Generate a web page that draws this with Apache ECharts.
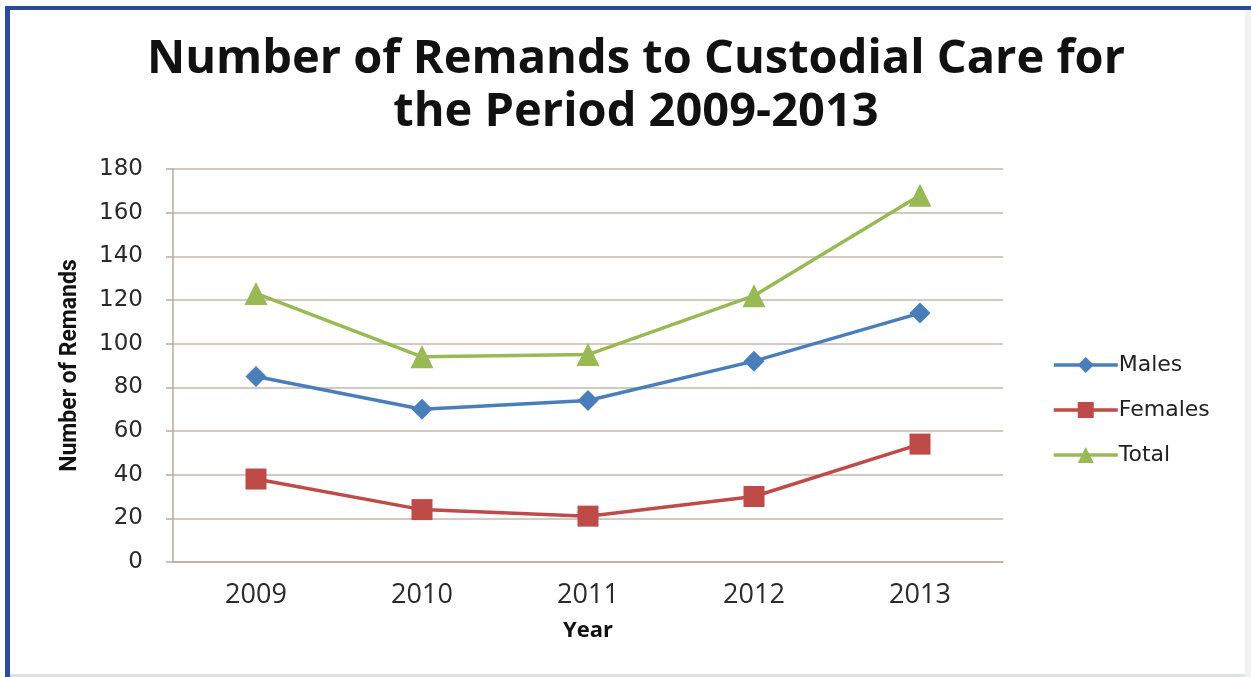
<!DOCTYPE html>
<html>
<head>
<meta charset="utf-8">
<title>Number of Remands to Custodial Care</title>
<script src="https://cdn.jsdelivr.net/npm/echarts@6/dist/echarts.min.js"></script>
<style>
  html, body { margin: 0; padding: 0; background: #ffffff; }
  #chart { width: 1251px; height: 677px; }
</style>
</head>
<body>
<div id="chart"></div>
<script>
// Remands to custodial care, by year
const years = ['2009', '2010', '2011', '2012', '2013'];
const males = [85, 70, 74, 92, 114];
const females = [38, 24, 21, 30, 54];
const total = [123, 94, 95, 122, 168];
const yTicks = { min: 0, max: 180, interval: 20 };

const chart = echarts.init(document.getElementById('chart'), null, { renderer: 'canvas' });

const lineSeries = (name, data, color, symbol, size) => ({
  name: name,
  type: 'line',
  data: data,
  symbol: symbol,
  symbolSize: size,
  showAllSymbol: true,
  lineStyle: { color: color, width: 3.5 },
  itemStyle: { color: color, borderWidth: 0 },
  emphasis: { disabled: true },
  z: 3
});

chart.setOption({
  animation: false,
  backgroundColor: '#ffffff',
  title: {
    text: 'Number of Remands to Custodial Care for\nthe Period 2009-2013',
    left: 631,
    textAlign: 'center',
    top: 28,
    textStyle: {
      fontFamily: 'Open Sans',
      fontWeight: 'bold',
      fontSize: 47,
      lineHeight: 53,
      color: '#111111'
    }
  },
  legend: {
    orient: 'vertical',
    left: 1047,
    top: 349,
    itemWidth: 64,
    itemHeight: 20,
    itemGap: 23,
    lineStyle: { width: 3.5 },
    textStyle: {
      fontFamily: 'DejaVu Sans',
      fontSize: 22,
      color: '#222222',
      padding: [0, 0, 0, -4]
    },
    data: ['Males', 'Females', 'Total']
  },
  grid: {
    left: 173,
    right: 248,
    top: 169,
    bottom: 115,
    containLabel: false
  },
  xAxis: {
    type: 'category',
    data: years,
    boundaryGap: true,
    name: 'Year',
    nameLocation: 'middle',
    nameGap: 58,
    nameTextStyle: {
      fontFamily: 'Open Sans',
      fontWeight: 'bold',
      fontSize: 22,
      color: '#111111'
    },
    axisLine: { show: true, lineStyle: { color: '#b8aaa4', width: 1.5 } },
    axisTick: { show: false },
    axisLabel: {
      margin: 20,
      fontFamily: 'Open Sans',
      fontSize: 27,
      color: '#2a2a2a'
    },
    splitLine: { show: false }
  },
  yAxis: {
    type: 'value',
    min: yTicks.min,
    max: yTicks.max,
    interval: yTicks.interval,
    name: 'Number of Remands',
    nameLocation: 'middle',
    nameGap: 91,
    nameRotate: 90,
    nameTextStyle: {
      fontFamily: 'Roboto',
      fontWeight: 'bold',
      fontSize: 23,
      color: '#111111'
    },
    axisLine: { show: true, lineStyle: { color: '#b8aaa4', width: 1.5 } },
    axisTick: { show: true, length: 7, inside: false, lineStyle: { color: '#b8aaa4', width: 1.5 } },
    axisLabel: {
      margin: 30,
      fontFamily: 'DejaVu Sans',
      fontSize: 23,
      color: '#2a2a2a'
    },
    splitLine: { show: true, lineStyle: { color: '#c4b6ae', width: 1.5 } }
  },
  series: [
    lineSeries('Males', males, '#4a7ebb', 'diamond', 21),
    lineSeries('Females', females, '#be4b48', 'rect', 21),
    lineSeries('Total', total, '#98b954', 'triangle', 23)
  ],
  graphic: [
    // frame around the whole figure
    { type: 'rect', shape: { x: 5, y: 6, width: 1246, height: 4 }, style: { fill: '#2b4b9b' }, silent: true },
    { type: 'rect', shape: { x: 5, y: 6, width: 5, height: 671 }, style: { fill: '#2b4b9b' }, silent: true },
    { type: 'rect', shape: { x: 10, y: 674, width: 1241, height: 3 }, style: { fill: '#dde1e6' }, silent: true },
    { type: 'rect', shape: { x: 1245, y: 10, width: 6, height: 667 }, style: { fill: '#f0f2f5' }, silent: true }
  ]
});
</script>
</body>
</html>
